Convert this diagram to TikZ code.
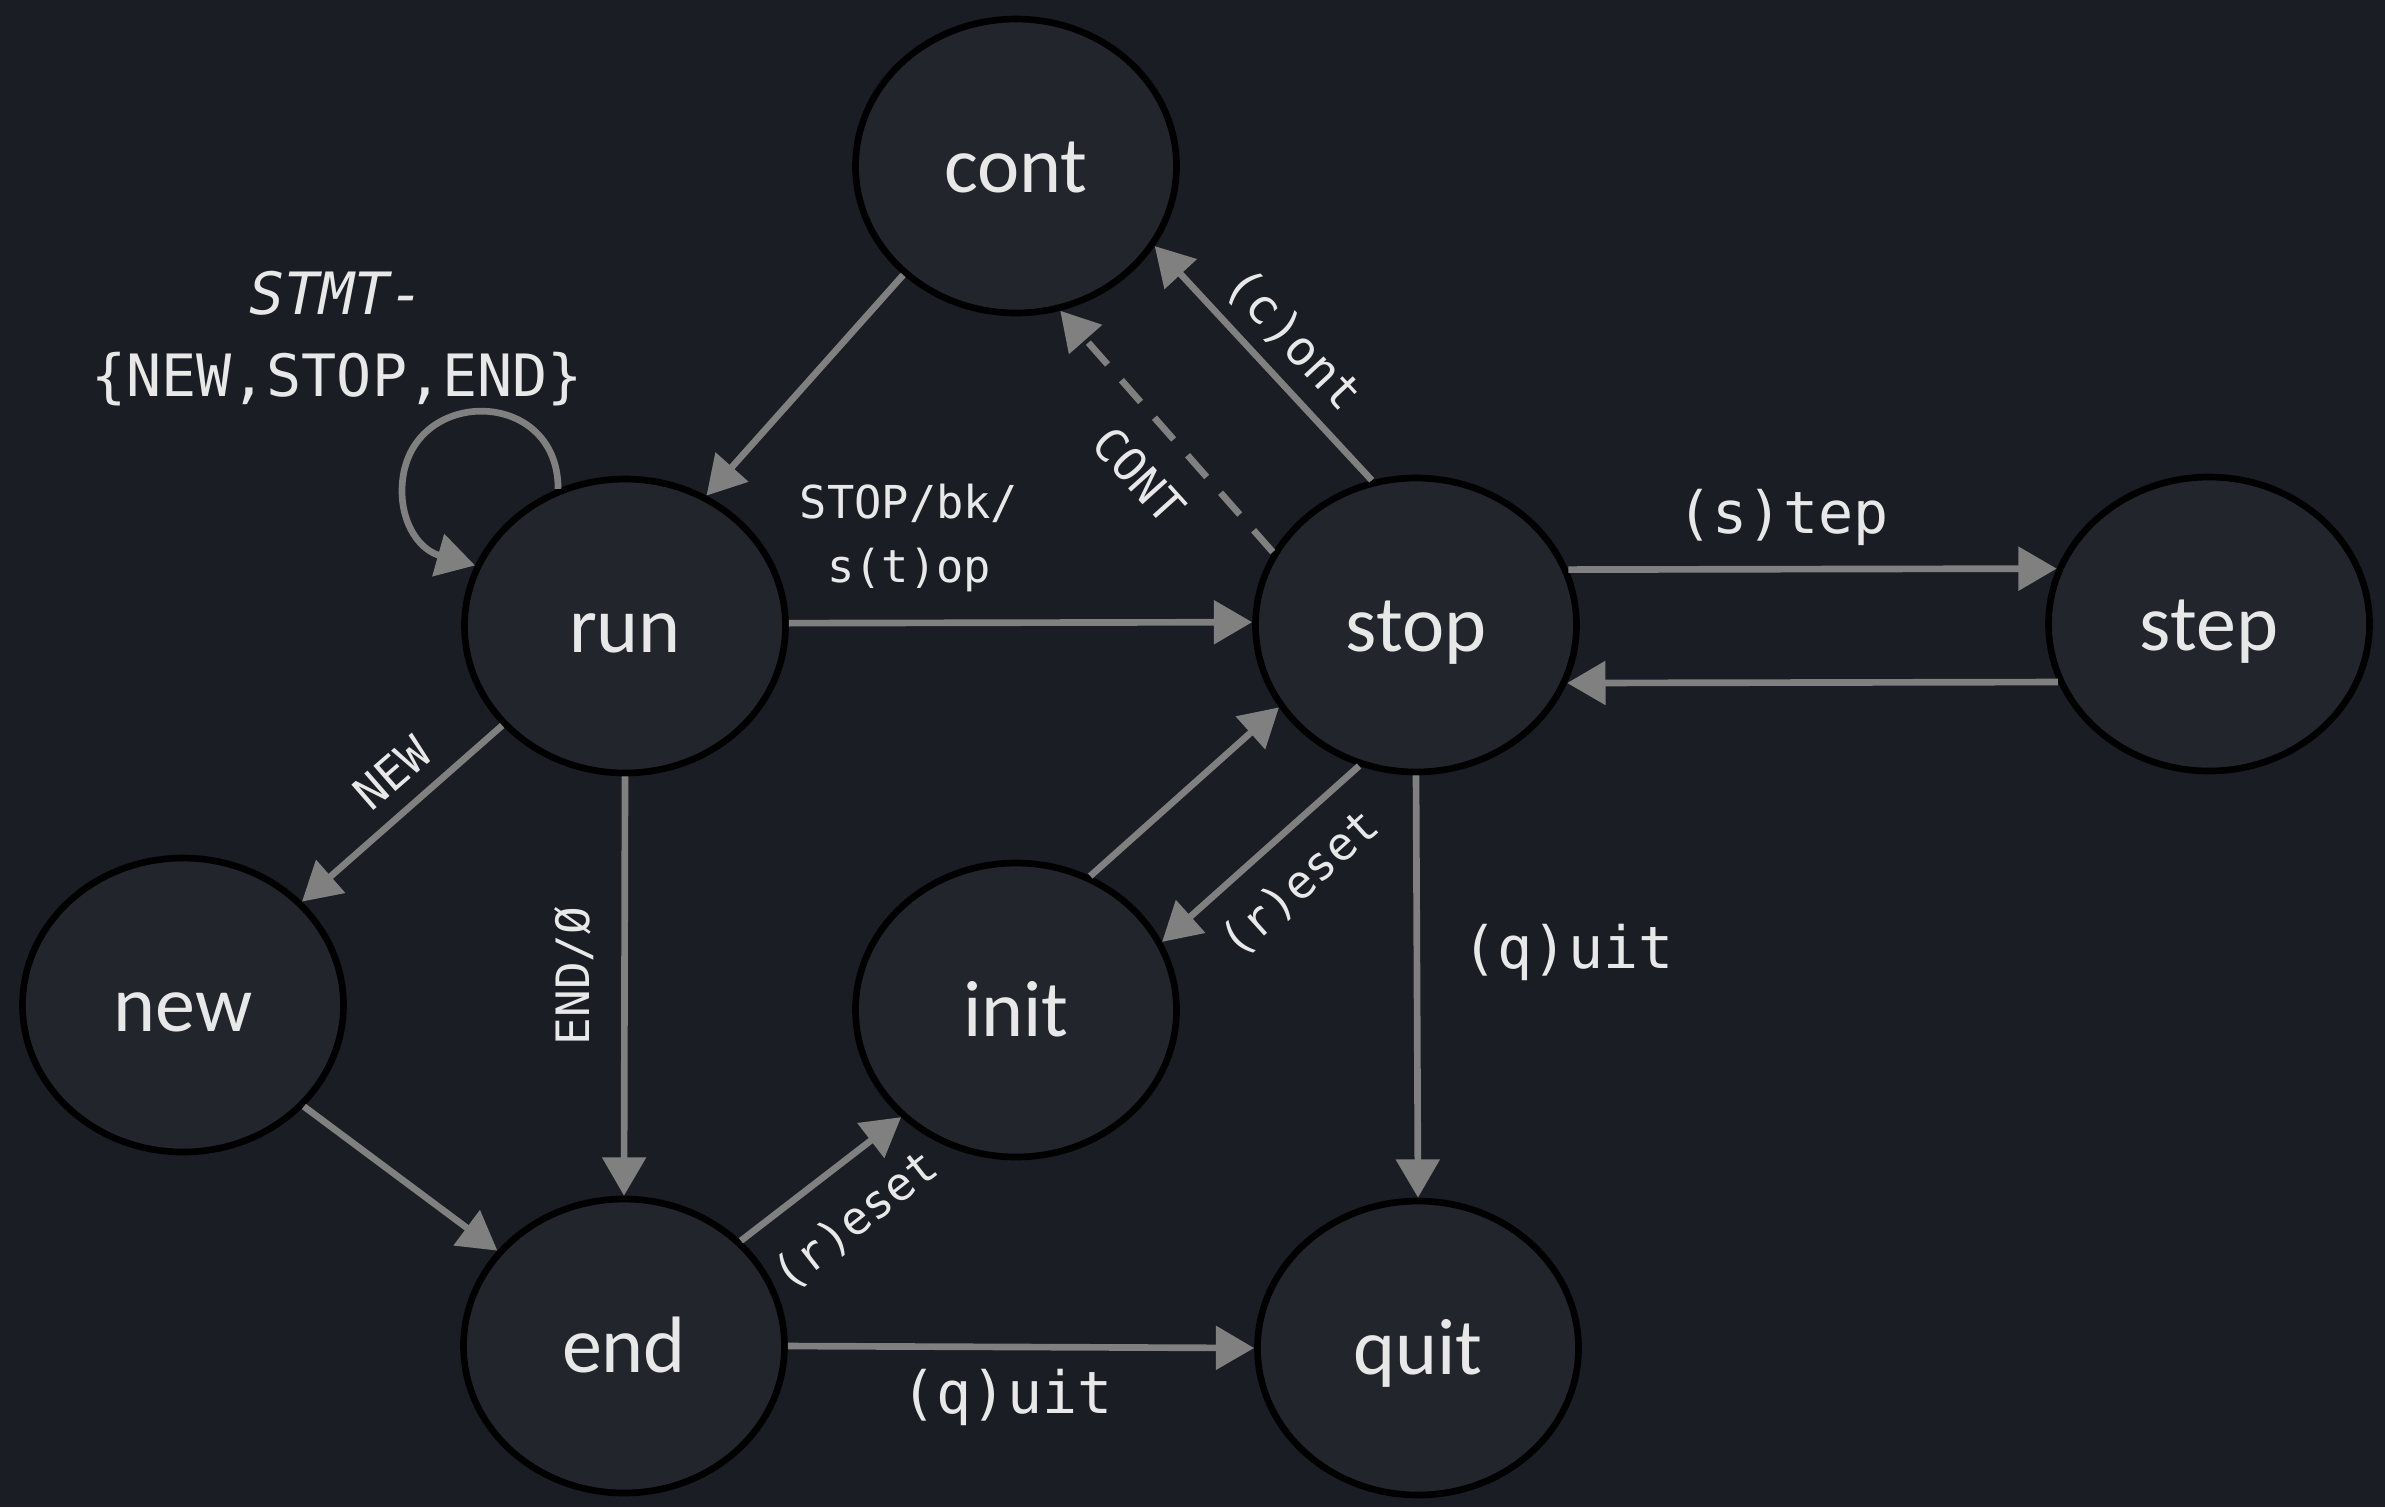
\documentclass[tikz,border=0pt]{standalone}
\usepackage{fontspec}
\setmainfont{Carlito}
\newfontfamily\labelfont{DejaVu Sans Mono}
\usetikzlibrary{shapes.geometric,arrows.meta}
\definecolor{bgc}{HTML}{1B1D24}
\definecolor{nodefill}{HTML}{23252D}
\definecolor{edgec}{HTML}{808080}
\definecolor{txtc}{HTML}{E8E8E8}
\begin{document}
\begin{tikzpicture}[x=0.3pt,y=-0.3pt,
  state/.style={ellipse,draw=black,line width=2pt,fill=nodefill,minimum width=96.3pt,minimum height=88.2pt,inner sep=0pt,text=txtc,text height=16.5pt,text depth=0.5pt,font=\fontsize{24}{28}\selectfont},
  edge/.style={draw=edgec,line width=2pt,-{Triangle[length=11.5pt,width=12.8pt]}},
  dashedge/.style={edge,dash pattern=on 8.7pt off 6.3pt},
  lbl/.style={text=txtc,inner sep=0pt,font=\labelfont\fontsize{17.5}{24.6}\selectfont},
  lblm/.style={text=txtc,inner sep=0pt,font=\labelfont\fontsize{14.5}{18}\selectfont},
  lbls/.style={text=txtc,inner sep=0pt,font=\labelfont\fontsize{13.8}{17}\selectfont},
  lblt/.style={text=txtc,inner sep=0pt,font=\labelfont\fontsize{13.6}{19}\selectfont}
]
\fill[bgc] (0,0) rectangle (2385,1507);
\useasboundingbox (0,0) rectangle (2385,1507);

\node[state] (cont) at (1016,166) {cont};
\node[state] (run)  at (625,626) {run};
\node[state] (stop) at (1416,625) {stop};
\node[state] (step) at (2209,624) {step};
\node[state] (new)  at (183,1005) {new};
\node[state] (init) at (1016,1010) {init};
\node[state] (end)  at (624,1346) {end};
\node[state] (quit) at (1418,1348) {quit};

\draw[edge] (run.116) .. controls +(0,-105) and (402,386) .. (402,491) .. controls (402,525) and (420,550) .. (run.158);
\draw[edge] (cont.224) -- (run.58);
\draw[edge] (stop.107) -- (cont.330);
\draw[dashedge] (stop.153) -- (cont.287);
\draw[edge] (run.1) -- (stop.179);
\draw[edge] (stop.20) -- (step.160);
\draw[edge] (step.201) -- (stop.339);
\draw[edge] (run.219) -- (new.41);
\draw[edge] (run.270) -- (end.90);
\draw[edge] (new.320) -- (end.143);
\draw[edge] (end.42) -- (init.223);
\draw[edge] (init.61) -- (stop.211);
\draw[edge] (stop.248) -- (init.25);
\draw[edge] (stop.270) -- (quit.90);
\draw[edge] (end.0) -- (quit.180);

\node[lbl,align=center] (lloop) at (337,339) {{\itshape STMT-}\\\{NEW,STOP,END\}};
\node[lblt,align=center] (lstopbk) at (909,538) {STOP/bk/\\s(t)op};
\node[lbl] (lstep) at (1783,517) {(s)tep};
\node[lbl] (lquitA) at (1568,952) {(q)uit};
\node[lbl] (lquitB) at (1007,1397) {(q)uit};
\node[lblm,rotate=-47] (lcont) at (1293,340) {(c)ont};
\node[lbls,rotate=-48] (lCONT) at (1139,475) {CONT};
\node[lbls,rotate=41] (lnew) at (392,773) {NEW};
\node[lbls,rotate=90] (lend) at (574,976) {END/Ø};
\node[lbls,rotate=38] (lresetA) at (856,1221) {(r)eset};
\node[lbls,rotate=42] (lresetB) at (1300,884) {(r)eset};
\end{tikzpicture}
\end{document}
